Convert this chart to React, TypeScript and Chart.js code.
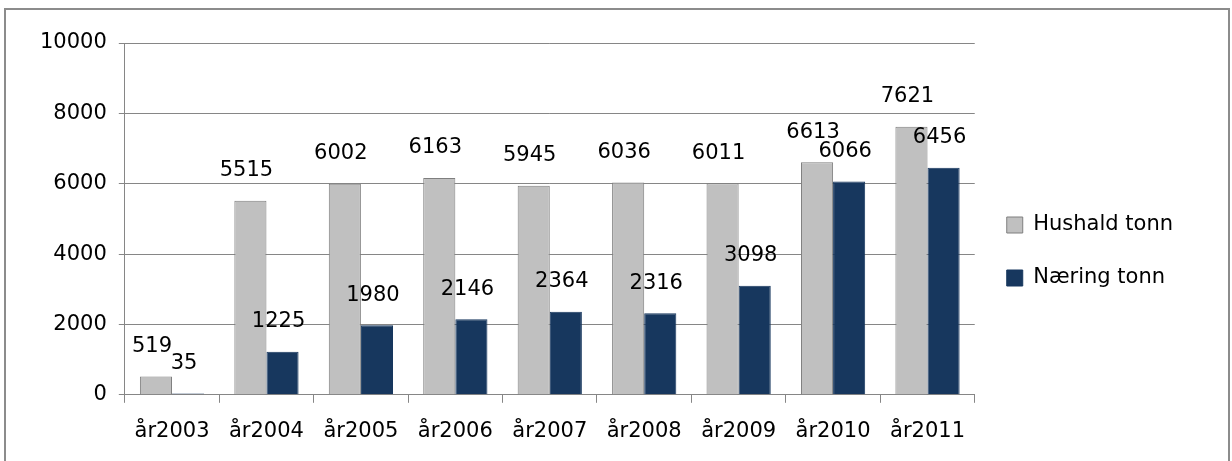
import React, { useEffect, useRef } from 'react';
import { Chart, registerables } from 'chart.js';

Chart.register(...registerables);

const YEARS = ['år2003', 'år2004', 'år2005', 'år2006', 'år2007', 'år2008', 'år2009', 'år2010', 'år2011'];
const HUSHALD = [519, 5515, 6002, 6163, 5945, 6036, 6011, 6613, 7621];
const NARING = [35, 1225, 1980, 2146, 2364, 2316, 3098, 6066, 6456];

const FONT = 'DejaVu Sans';

const labelPlugin = {
    id: 'barLabels',
    beforeLayout(chart: any) {
        const l = chart.legend;
        if (l && !l._wide) {
            const fit = l.fit.bind(l);
            l.fit = function () { fit(); this.width += 35; };
            l._wide = true;
        }
    },
    afterDatasetsDraw(chart: any) {
        const ctx = chart.ctx;
        ctx.save();
        ctx.font = `21px "${FONT}"`;
        ctx.fillStyle = '#000';
        ctx.textAlign = 'center';
        ctx.textBaseline = 'middle';
        chart.data.datasets.forEach((ds: any, i: number) => {
            chart.getDatasetMeta(i).data.forEach((bar: any, j: number) => {
                ctx.fillText(String(ds.data[j]), bar.x - 4, bar.y - 30);
            });
        });
        ctx.restore();
    }
};

export default function App() {
    const ref = useRef<HTMLCanvasElement>(null);

    useEffect(() => {
        if (!ref.current) return;
        const chart = new Chart(ref.current, {
            type: 'bar',
            data: {
                labels: YEARS,
                datasets: [
                    { label: 'Hushald tonn', data: HUSHALD, backgroundColor: '#c0c0c0', borderColor: '#7f7f7f', borderWidth: 1, categoryPercentage: 0.68, barPercentage: 1 },
                    { label: 'Næring tonn', data: NARING, backgroundColor: '#17375e', borderColor: '#17375e', borderWidth: 1, categoryPercentage: 0.68, barPercentage: 1 }
                ]
            },
            options: {
                animation: false,
                responsive: true,
                maintainAspectRatio: false,
                layout: { padding: { left: 22, top: 33, right: 10, bottom: 6 } },
                plugins: {
                    legend: {
                        position: 'right',
                        labels: { font: { family: FONT, size: 21 }, color: '#000', boxWidth: 16, boxHeight: 16, padding: 32 }
                    },
                    tooltip: { enabled: false }
                },
                scales: {
                    x: {
                        grid: { display: true, drawOnChartArea: false, offset: true, color: '#868686', tickLength: 8 },
                        border: { color: '#868686' },
                        ticks: { font: { family: FONT, size: 21 }, color: '#000', maxRotation: 0, padding: 16 }
                    },
                    y: {
                        min: 0, max: 10000,
                        ticks: { stepSize: 2000, font: { family: FONT, size: 21 }, color: '#000', padding: 12, callback: (v: any) => String(v) },
                        grid: { color: '#868686', tickLength: 6 },
                        border: { color: '#868686' }
                    }
                }
            },
            plugins: [labelPlugin]
        });
        return () => chart.destroy();
    }, []);

    return (
        <div style={{ position: 'fixed', inset: 0, background: '#fff' }}>
            <div style={{ position: 'absolute', left: 4, top: 8, width: 1226, height: 460, border: '2px solid #8c8c8c', boxSizing: 'border-box' }}>
                <canvas ref={ref}></canvas>
            </div>
        </div>
    );
}
